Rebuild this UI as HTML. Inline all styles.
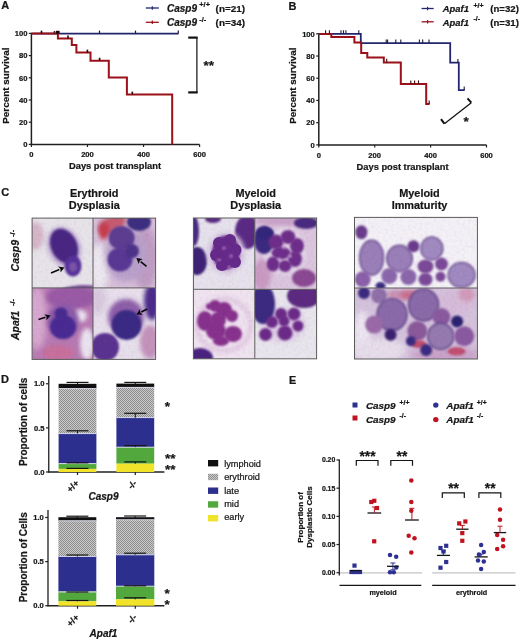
<!DOCTYPE html>
<html><head><meta charset="utf-8"><style>
html,body{margin:0;padding:0;background:#fff;}
body{width:520px;height:640px;overflow:hidden;}
svg{display:block;font-family:"Liberation Sans", sans-serif;filter:blur(0.35px);}
text{stroke:#161616;stroke-width:0.22px;}
</style></head><body>
<svg width="520" height="640" viewBox="0 0 520 640">
<defs>
<pattern id="chk" width="2" height="2" patternUnits="userSpaceOnUse"><rect width="2" height="2" fill="#c9c9c9"/><rect width="1" height="1" fill="#8e8e8e"/><rect x="1" y="1" width="1" height="1" fill="#8e8e8e"/></pattern>
<filter id="b1" x="-20%" y="-20%" width="140%" height="140%"><feGaussianBlur stdDeviation="1"/></filter>
<filter id="b2" x="-20%" y="-20%" width="140%" height="140%"><feGaussianBlur stdDeviation="2"/></filter>
<filter id="b3" x="-30%" y="-30%" width="160%" height="160%"><feGaussianBlur stdDeviation="3"/></filter>
<filter id="grain" x="0" y="0" width="100%" height="100%"><feTurbulence type="fractalNoise" baseFrequency="0.35" numOctaves="2" seed="3" result="n"/><feColorMatrix in="n" type="matrix" values="0 0 0 0 0.55  0 0 0 0 0.35  0 0 0 0 0.6  2.2 0 0 0 -0.9"/></filter>
<filter id="b05" x="-20%" y="-20%" width="140%" height="140%"><feGaussianBlur stdDeviation="0.6"/></filter>
</defs>
<rect width="520" height="640" fill="#fff"/>
<text x="1.2" y="9.2" font-size="11" font-weight="bold" font-style="normal" text-anchor="start" fill="#161616" >A</text>
<line x1="31.4" y1="32.9" x2="31.4" y2="145.1" stroke="#202020" stroke-width="1.5" />
<line x1="30.7" y1="144.4" x2="199.6" y2="144.4" stroke="#202020" stroke-width="1.5" />
<line x1="28.799999999999997" y1="144.4" x2="31.4" y2="144.4" stroke="#202020" stroke-width="1.2" />
<text x="27.4" y="147.1" font-size="7.6" font-weight="bold" font-style="normal" text-anchor="end" fill="#161616" >0</text>
<line x1="28.799999999999997" y1="122.2" x2="31.4" y2="122.2" stroke="#202020" stroke-width="1.2" />
<text x="27.4" y="124.9" font-size="7.6" font-weight="bold" font-style="normal" text-anchor="end" fill="#161616" >20</text>
<line x1="28.799999999999997" y1="100.0" x2="31.4" y2="100.0" stroke="#202020" stroke-width="1.2" />
<text x="27.4" y="102.7" font-size="7.6" font-weight="bold" font-style="normal" text-anchor="end" fill="#161616" >40</text>
<line x1="28.799999999999997" y1="77.80000000000001" x2="31.4" y2="77.80000000000001" stroke="#202020" stroke-width="1.2" />
<text x="27.4" y="80.50000000000001" font-size="7.6" font-weight="bold" font-style="normal" text-anchor="end" fill="#161616" >60</text>
<line x1="28.799999999999997" y1="55.60000000000001" x2="31.4" y2="55.60000000000001" stroke="#202020" stroke-width="1.2" />
<text x="27.4" y="58.30000000000001" font-size="7.6" font-weight="bold" font-style="normal" text-anchor="end" fill="#161616" >80</text>
<line x1="28.799999999999997" y1="33.400000000000006" x2="31.4" y2="33.400000000000006" stroke="#202020" stroke-width="1.2" />
<text x="27.4" y="36.10000000000001" font-size="7.6" font-weight="bold" font-style="normal" text-anchor="end" fill="#161616" >100</text>
<line x1="31.4" y1="144.4" x2="31.4" y2="147.0" stroke="#202020" stroke-width="1.2" />
<text x="31.4" y="157.0" font-size="7.6" font-weight="bold" font-style="normal" text-anchor="middle" fill="#161616" >0</text>
<line x1="87.46666666666667" y1="144.4" x2="87.46666666666667" y2="147.0" stroke="#202020" stroke-width="1.2" />
<text x="87.46666666666667" y="157.0" font-size="7.6" font-weight="bold" font-style="normal" text-anchor="middle" fill="#161616" >200</text>
<line x1="143.53333333333333" y1="144.4" x2="143.53333333333333" y2="147.0" stroke="#202020" stroke-width="1.2" />
<text x="143.53333333333333" y="157.0" font-size="7.6" font-weight="bold" font-style="normal" text-anchor="middle" fill="#161616" >400</text>
<line x1="199.6" y1="144.4" x2="199.6" y2="147.0" stroke="#202020" stroke-width="1.2" />
<text x="199.6" y="157.0" font-size="7.6" font-weight="bold" font-style="normal" text-anchor="middle" fill="#161616" >600</text>
<text x="115" y="169.20000000000002" font-size="9.3" font-weight="bold" font-style="normal" text-anchor="middle" fill="#161616" >Days post transplant</text>
<text x="0" y="0" font-size="9.9" font-weight="bold" text-anchor="middle" fill="#161616" transform="translate(8.7,85.6) rotate(-90)">Percent survival</text>
<polyline points="31.4,33.6 178.5,33.6" fill="none" stroke="#25256f" stroke-width="1.6" stroke-linejoin="miter"/>
<line x1="99.5" y1="30.6" x2="99.5" y2="33.6" stroke="#1a1a40" stroke-width="1.2" />
<line x1="135.5" y1="30.6" x2="135.5" y2="33.6" stroke="#1a1a40" stroke-width="1.2" />
<line x1="178.3" y1="30.6" x2="178.3" y2="33.6" stroke="#1a1a40" stroke-width="1.2" />
<polyline points="31.4,33.6 57.9,33.6 57.9,38.5 71.8,38.5 71.8,45.1 76.4,45.1 76.4,52.6 90.5,52.6 90.5,60.7 108.8,60.7 108.8,77.5 126.9,77.5 126.9,94.6 172.2,94.6 172.2,144.4" fill="none" stroke="#9c1019" stroke-width="2.0" stroke-linejoin="miter"/>
<rect x="53.7" y="31.0" width="1.6" height="2.6" fill="#4a2020"/><rect x="56.0" y="30.8" width="3.6" height="2.8" fill="#1a0808"/>
<line x1="41.5" y1="30.6" x2="41.5" y2="33.6" stroke="#2a0808" stroke-width="1.6" />
<line x1="68" y1="35.5" x2="68" y2="38.5" stroke="#2a0808" stroke-width="1.6" />
<line x1="87.4" y1="49.6" x2="87.4" y2="52.6" stroke="#2a0808" stroke-width="1.6" />
<line x1="99.6" y1="57.7" x2="99.6" y2="60.7" stroke="#2a0808" stroke-width="1.6" />
<line x1="132.3" y1="91.6" x2="132.3" y2="94.6" stroke="#2a0808" stroke-width="1.6" />
<line x1="188.2" y1="37.6" x2="197.6" y2="37.6" stroke="#111" stroke-width="2.2" />
<line x1="196.9" y1="37.0" x2="196.9" y2="93.0" stroke="#111" stroke-width="1.2" />
<line x1="188.2" y1="92.4" x2="197.6" y2="92.4" stroke="#111" stroke-width="2.2" />
<text x="208.8" y="70.0" font-size="13.5" font-weight="bold" font-style="normal" text-anchor="middle" fill="#161616" >**</text>
<line x1="145.8" y1="8.0" x2="158.8" y2="8.0" stroke="#25256f" stroke-width="1.3" />
<line x1="152.3" y1="6.3" x2="152.3" y2="9.7" stroke="#25256f" stroke-width="1.2" />
<line x1="145.8" y1="22.3" x2="158.8" y2="22.3" stroke="#9c1019" stroke-width="1.3" />
<line x1="152.3" y1="20.6" x2="152.3" y2="24.0" stroke="#9c1019" stroke-width="1.2" />
<text x="167" y="12.0" font-size="10" font-weight="bold" font-style="italic" text-anchor="start" fill="#161616" >Casp9</text>
<text x="199.3" y="7.4" font-size="7.4" font-weight="bold" font-style="normal" text-anchor="start" fill="#161616" >+/+</text>
<text x="215.6" y="12.0" font-size="9.9" font-weight="bold" font-style="normal" text-anchor="start" fill="#161616" >(n=21)</text>
<text x="167" y="26.3" font-size="10" font-weight="bold" font-style="italic" text-anchor="start" fill="#161616" >Casp9</text>
<text x="199.3" y="21.700000000000003" font-size="7.4" font-weight="bold" font-style="normal" text-anchor="start" fill="#161616" >-/-</text>
<text x="215.6" y="26.3" font-size="9.9" font-weight="bold" font-style="normal" text-anchor="start" fill="#161616" >(n=34)</text>
<text x="288.6" y="9.6" font-size="11" font-weight="bold" font-style="normal" text-anchor="start" fill="#161616" >B</text>
<line x1="318.8" y1="33.3" x2="318.8" y2="145.6" stroke="#202020" stroke-width="1.5" />
<line x1="318.1" y1="144.9" x2="486.5" y2="144.9" stroke="#202020" stroke-width="1.5" />
<line x1="316.2" y1="144.9" x2="318.8" y2="144.9" stroke="#202020" stroke-width="1.2" />
<text x="314.8" y="147.6" font-size="7.6" font-weight="bold" font-style="normal" text-anchor="end" fill="#161616" >0</text>
<line x1="316.2" y1="122.68" x2="318.8" y2="122.68" stroke="#202020" stroke-width="1.2" />
<text x="314.8" y="125.38000000000001" font-size="7.6" font-weight="bold" font-style="normal" text-anchor="end" fill="#161616" >20</text>
<line x1="316.2" y1="100.46000000000001" x2="318.8" y2="100.46000000000001" stroke="#202020" stroke-width="1.2" />
<text x="314.8" y="103.16000000000001" font-size="7.6" font-weight="bold" font-style="normal" text-anchor="end" fill="#161616" >40</text>
<line x1="316.2" y1="78.24000000000001" x2="318.8" y2="78.24000000000001" stroke="#202020" stroke-width="1.2" />
<text x="314.8" y="80.94000000000001" font-size="7.6" font-weight="bold" font-style="normal" text-anchor="end" fill="#161616" >60</text>
<line x1="316.2" y1="56.019999999999996" x2="318.8" y2="56.019999999999996" stroke="#202020" stroke-width="1.2" />
<text x="314.8" y="58.72" font-size="7.6" font-weight="bold" font-style="normal" text-anchor="end" fill="#161616" >80</text>
<line x1="316.2" y1="33.80000000000001" x2="318.8" y2="33.80000000000001" stroke="#202020" stroke-width="1.2" />
<text x="314.8" y="36.500000000000014" font-size="7.6" font-weight="bold" font-style="normal" text-anchor="end" fill="#161616" >100</text>
<line x1="318.8" y1="144.9" x2="318.8" y2="147.5" stroke="#202020" stroke-width="1.2" />
<text x="318.8" y="157.5" font-size="7.6" font-weight="bold" font-style="normal" text-anchor="middle" fill="#161616" >0</text>
<line x1="374.7" y1="144.9" x2="374.7" y2="147.5" stroke="#202020" stroke-width="1.2" />
<text x="374.7" y="157.5" font-size="7.6" font-weight="bold" font-style="normal" text-anchor="middle" fill="#161616" >200</text>
<line x1="430.6" y1="144.9" x2="430.6" y2="147.5" stroke="#202020" stroke-width="1.2" />
<text x="430.6" y="157.5" font-size="7.6" font-weight="bold" font-style="normal" text-anchor="middle" fill="#161616" >400</text>
<line x1="486.5" y1="144.9" x2="486.5" y2="147.5" stroke="#202020" stroke-width="1.2" />
<text x="486.5" y="157.5" font-size="7.6" font-weight="bold" font-style="normal" text-anchor="middle" fill="#161616" >600</text>
<text x="402.6" y="169.70000000000002" font-size="9.3" font-weight="bold" font-style="normal" text-anchor="middle" fill="#161616" >Days post transplant</text>
<text x="0" y="0" font-size="9.9" font-weight="bold" text-anchor="middle" fill="#161616" transform="translate(295.8,85.6) rotate(-90)">Percent survival</text>
<polyline points="318.8,33.9 360.8,33.9 360.8,43.1 450.2,43.1 450.2,62.7 458.8,62.7 458.8,90.2 464.6,90.2" fill="none" stroke="#25256f" stroke-width="1.8" stroke-linejoin="miter"/>
<polyline points="318.8,33.9 331.3,33.9 331.3,37.0 354.4,37.0 354.4,42.4 361.2,42.4 361.2,52.9 367.3,52.9 367.3,57.6 383.8,57.6 383.8,62.4 400.8,62.4 400.8,84.0 426.2,84.0 426.2,104.0 429.6,104.0" fill="none" stroke="#9c1019" stroke-width="2.0" stroke-linejoin="miter"/>
<line x1="325.6" y1="30.299999999999997" x2="325.6" y2="33.9" stroke="#3a0a0a" stroke-width="1.1" />
<line x1="329.4" y1="30.299999999999997" x2="329.4" y2="33.9" stroke="#3a0a0a" stroke-width="1.1" />
<line x1="341" y1="30.299999999999997" x2="341" y2="33.9" stroke="#1a1a40" stroke-width="1.1" />
<line x1="343.5" y1="30.299999999999997" x2="343.5" y2="33.9" stroke="#1a1a40" stroke-width="1.1" />
<line x1="345.9" y1="30.299999999999997" x2="345.9" y2="33.9" stroke="#1a1a40" stroke-width="1.1" />
<line x1="358.8" y1="30.299999999999997" x2="358.8" y2="33.9" stroke="#1a1a40" stroke-width="1.1" />
<line x1="386.2" y1="39.5" x2="386.2" y2="43.1" stroke="#1a1a40" stroke-width="1.1" />
<line x1="387.6" y1="39.5" x2="387.6" y2="43.1" stroke="#1a1a40" stroke-width="1.1" />
<line x1="395.8" y1="39.5" x2="395.8" y2="43.1" stroke="#1a1a40" stroke-width="1.1" />
<line x1="400.8" y1="39.5" x2="400.8" y2="43.1" stroke="#1a1a40" stroke-width="1.1" />
<line x1="419.4" y1="39.5" x2="419.4" y2="43.1" stroke="#1a1a40" stroke-width="1.1" />
<line x1="422.7" y1="39.5" x2="422.7" y2="43.1" stroke="#1a1a40" stroke-width="1.1" />
<line x1="429" y1="39.5" x2="429" y2="43.1" stroke="#1a1a40" stroke-width="1.1" />
<line x1="457.9" y1="59.1" x2="457.9" y2="62.7" stroke="#1a1a40" stroke-width="1.1" />
<line x1="464.2" y1="86.60000000000001" x2="464.2" y2="90.2" stroke="#1a1a40" stroke-width="1.1" />
<line x1="386.7" y1="58.8" x2="386.7" y2="62.4" stroke="#3a0a0a" stroke-width="1.1" />
<line x1="410.8" y1="80.4" x2="410.8" y2="84.0" stroke="#3a0a0a" stroke-width="1.1" />
<line x1="414.6" y1="80.4" x2="414.6" y2="84.0" stroke="#3a0a0a" stroke-width="1.1" />
<line x1="418.5" y1="80.4" x2="418.5" y2="84.0" stroke="#3a0a0a" stroke-width="1.1" />
<line x1="429.2" y1="100.4" x2="429.2" y2="104.0" stroke="#3a0a0a" stroke-width="1.1" />
<line x1="444.4" y1="123.7" x2="471.3" y2="102.7" stroke="#111" stroke-width="1.3" />
<line x1="444.4" y1="123.7" x2="441.0" y2="119.1" stroke="#111" stroke-width="2.0" />
<line x1="471.3" y1="102.7" x2="467.5" y2="98.3" stroke="#111" stroke-width="2.0" />
<text x="466.2" y="125.6" font-size="13.5" font-weight="bold" font-style="normal" text-anchor="middle" fill="#161616" >*</text>
<line x1="421.6" y1="8.5" x2="433.7" y2="8.5" stroke="#25256f" stroke-width="1.3" />
<line x1="427.6" y1="6.8" x2="427.6" y2="10.2" stroke="#25256f" stroke-width="1.2" />
<line x1="421.6" y1="21.8" x2="433.7" y2="21.8" stroke="#9c1019" stroke-width="1.3" />
<line x1="427.6" y1="20.1" x2="427.6" y2="23.5" stroke="#9c1019" stroke-width="1.2" />
<text x="442.8" y="12.4" font-size="9.4" font-weight="bold" font-style="italic" text-anchor="start" fill="#161616" >Apaf1</text>
<text x="473.4" y="7.800000000000001" font-size="7.0" font-weight="bold" font-style="normal" text-anchor="start" fill="#161616" >+/+</text>
<text x="490.3" y="12.4" font-size="9.6" font-weight="bold" font-style="normal" text-anchor="start" fill="#161616" >(n=32)</text>
<text x="442.8" y="25.8" font-size="9.4" font-weight="bold" font-style="italic" text-anchor="start" fill="#161616" >Apaf1</text>
<text x="473.4" y="21.200000000000003" font-size="7.0" font-weight="bold" font-style="normal" text-anchor="start" fill="#161616" >-/-</text>
<text x="490.3" y="25.8" font-size="9.6" font-weight="bold" font-style="normal" text-anchor="start" fill="#161616" >(n=31)</text>
<text x="1.3" y="195.8" font-size="11" font-weight="bold" fill="#161616">C</text>
<text x="94.3" y="196.6" font-size="10.9" font-weight="bold" text-anchor="middle" fill="#161616">Erythroid</text>
<text x="94.3" y="209.4" font-size="10.9" font-weight="bold" text-anchor="middle" fill="#161616">Dysplasia</text>
<text x="255.7" y="196.6" font-size="10.9" font-weight="bold" text-anchor="middle" fill="#161616">Myeloid</text>
<text x="255.7" y="209.4" font-size="10.9" font-weight="bold" text-anchor="middle" fill="#161616">Dysplasia</text>
<text x="419.5" y="196.6" font-size="10.9" font-weight="bold" text-anchor="middle" fill="#161616">Myeloid</text>
<text x="419.5" y="209.4" font-size="10.9" font-weight="bold" text-anchor="middle" fill="#161616">Immaturity</text>
<text transform="translate(18.9,271.4) rotate(-90)" font-size="10.5" font-weight="bold" fill="#161616"><tspan font-style="italic">Casp9</tspan><tspan font-size="7.4" dx="3.0" dy="-4.4">-/-</tspan></text>
<text transform="translate(18.9,340.0) rotate(-90)" font-size="10.5" font-weight="bold" fill="#161616"><tspan font-style="italic">Apaf1</tspan><tspan font-size="7.4" dx="4.8" dy="-4.4">-/-</tspan></text>
<clipPath id="e1"><rect x="32.1" y="218.1" width="60.9" height="69.79999999999998"/></clipPath><g clip-path="url(#e1)"><rect x="32.1" y="218.1" width="60.9" height="69.79999999999998" fill="#e7e4e9"/><ellipse cx="35" cy="236" rx="9" ry="14" fill="#d6b6c8" filter="url(#b2)"/><ellipse cx="84" cy="297" rx="30" ry="12" fill="#7a4c9c" filter="url(#b1)"/><ellipse cx="64" cy="247" rx="16" ry="21" fill="#b9a3cf" filter="url(#b2)" transform="rotate(-25 64 247)"/><ellipse cx="64" cy="246" rx="13" ry="18" fill="#4a2882" filter="url(#b1)" transform="rotate(-25 64 246)"/><ellipse cx="73" cy="266" rx="8.5" ry="10.5" fill="#57329a" filter="url(#b1)"/><ellipse cx="73" cy="267" rx="4" ry="5" fill="#7a52a8" filter="url(#b1)"/><line x1="51" y1="273" x2="59.325320643918516" y2="269.5207615219445" stroke="#0a0a0a" stroke-width="1.6"/><polygon points="64.4,267.4 60.55921825668623,272.4733022382101 60.432523412518115,269.0580499171566 58.0914230311508,266.5682208056789" fill="#0a0a0a"/></g>
<clipPath id="e2"><rect x="93.0" y="218.1" width="62.599999999999994" height="69.79999999999998"/></clipPath><g clip-path="url(#e2)"><rect x="93.0" y="218.1" width="62.599999999999994" height="69.79999999999998" fill="#d7c0d9"/><ellipse cx="99" cy="268" rx="10" ry="24" fill="#ece8ef" filter="url(#b3)"/><ellipse cx="145" cy="258" rx="13" ry="32" fill="#bf9cc3" filter="url(#b3)"/><ellipse cx="112" cy="225" rx="15" ry="9" fill="#c65a70" filter="url(#b2)" transform="rotate(-25 112 225)"/><ellipse cx="104" cy="231" rx="5" ry="9" fill="#c43a4c" filter="url(#b2)"/><ellipse cx="126" cy="255" rx="21" ry="27" fill="#b8a0ca" filter="url(#b3)"/><ellipse cx="139" cy="222" rx="12" ry="9" fill="#3d2d80" filter="url(#b1)"/><ellipse cx="121.6" cy="238" rx="13" ry="12" fill="#5b3c90" filter="url(#b1)"/><ellipse cx="120" cy="259.5" rx="12.5" ry="12" fill="#583994" filter="url(#b1)"/><ellipse cx="132" cy="251" rx="7" ry="7" fill="#4d3189" filter="url(#b1)"/><line x1="146.5" y1="266.3" x2="140.6699198654438" y2="261.56666761352864" stroke="#0a0a0a" stroke-width="1.6"/><polygon points="136.4,258.1 142.686890113315,259.0823506009068 139.7383009857106,260.8103037705769 138.6529496175726,264.05098462615047" fill="#0a0a0a"/></g>
<clipPath id="e3"><rect x="32.1" y="287.9" width="60.9" height="71.5"/></clipPath><g clip-path="url(#e3)"><rect x="32.1" y="287.9" width="60.9" height="71.5" fill="#b77ab2"/><ellipse cx="37" cy="318" rx="10" ry="32" fill="#d6a8cf" filter="url(#b3)"/><ellipse cx="72" cy="297" rx="26" ry="12" fill="#9a5aa6" filter="url(#b2)"/><ellipse cx="80" cy="316" rx="7" ry="6" fill="#f0eaf3" filter="url(#b2)"/><ellipse cx="87" cy="344" rx="7" ry="16" fill="#ebe4f0" filter="url(#b2)"/><ellipse cx="58" cy="353" rx="16" ry="8" fill="#c8709c" filter="url(#b2)"/><ellipse cx="63" cy="321" rx="16" ry="17" fill="#8a5aa8" filter="url(#b2)"/><ellipse cx="61" cy="313.5" rx="6.5" ry="6" fill="#4a2a90" filter="url(#b1)"/><ellipse cx="63" cy="327" rx="13" ry="12" fill="#482b92" filter="url(#b1)"/><line x1="38.5" y1="319.6" x2="45.40411006918758" y2="317.20353204210016" stroke="#0a0a0a" stroke-width="1.6"/><polygon points="50.6,315.4 46.45343780277315,320.22659527457284 46.537758781364836,316.8100341420056 44.35478233560201,314.1804688096275" fill="#0a0a0a"/></g>
<clipPath id="e4"><rect x="93.0" y="287.9" width="62.599999999999994" height="71.5"/></clipPath><g clip-path="url(#e4)"><rect x="93.0" y="287.9" width="62.599999999999994" height="71.5" fill="#e7dfeb"/><ellipse cx="98" cy="300" rx="8" ry="14" fill="#d8c8de" filter="url(#b3)"/><ellipse cx="150" cy="342" rx="10" ry="17" fill="#c393bb" filter="url(#b2)"/><ellipse cx="152" cy="301" rx="8" ry="19" fill="#4b2b8b" filter="url(#b2)"/><ellipse cx="126" cy="317" rx="18" ry="18" fill="#8d5ea8" filter="url(#b2)"/><ellipse cx="126.5" cy="325" rx="15" ry="15" fill="#3b2a84" filter="url(#b1)"/><ellipse cx="105" cy="347" rx="14" ry="14" fill="#5a3190" filter="url(#b1)"/><line x1="147.2" y1="309" x2="141.31934955049954" y2="311.9403252247502" stroke="#0a0a0a" stroke-width="1.6"/><polygon points="136.4,314.4 139.88826604489967,309.07815821355047 140.24603692129963,312.47698153935016 142.7504330560994,314.80249223594996" fill="#0a0a0a"/></g>
<rect x="32.1" y="218.1" width="123.5" height="141.29999999999998" fill="#7a5a8a" filter="url(#grain)" opacity="0.13" style="mix-blend-mode:multiply"/>
<rect x="32.1" y="218.1" width="123.5" height="141.29999999999998" fill="none" stroke="#5a5a5a" stroke-width="1"/>
<line x1="93.0" y1="218.1" x2="93.0" y2="359.4" stroke="#5a5a5a" stroke-width="1"/>
<line x1="32.1" y1="287.9" x2="155.6" y2="287.9" stroke="#5a5a5a" stroke-width="1"/>
<clipPath id="m1"><rect x="193.4" y="218.0" width="61.400000000000006" height="71.30000000000001"/></clipPath><g clip-path="url(#m1)"><rect x="193.4" y="218.0" width="61.400000000000006" height="71.30000000000001" fill="#e6e2ec"/><ellipse cx="194" cy="231" rx="5" ry="15" fill="#4a2a80" filter="url(#b1)"/><ellipse cx="213" cy="219" rx="8" ry="4" fill="#5a2a82" filter="url(#b1)"/><ellipse cx="247" cy="232" rx="12" ry="17" fill="#5a2a84" filter="url(#b1)"/><ellipse cx="197" cy="261" rx="10" ry="14" fill="#3c2274" filter="url(#b1)"/><ellipse cx="226" cy="253" rx="19" ry="21" fill="#d6c6e0" filter="url(#b2)"/><ellipse cx="226" cy="252.5" rx="14" ry="17" fill="#6a2c8c" filter="url(#b1)"/><ellipse cx="219" cy="243" rx="6" ry="6" fill="#652a8a"/><ellipse cx="230" cy="240" rx="6" ry="6" fill="#652a8a"/><ellipse cx="236" cy="250" rx="5.5" ry="6" fill="#652a8a"/><ellipse cx="216" cy="255" rx="6" ry="6" fill="#652a8a"/><ellipse cx="226" cy="254" rx="5" ry="5" fill="#652a8a"/><ellipse cx="235" cy="262" rx="6" ry="6" fill="#652a8a"/><ellipse cx="222" cy="266" rx="6" ry="5" fill="#652a8a"/><ellipse cx="224" cy="248" rx="1.6" ry="1.6" fill="#b080c0" filter="url(#b1)"/><ellipse cx="231" cy="256" rx="1.6" ry="1.6" fill="#b080c0" filter="url(#b1)"/><ellipse cx="219" cy="260" rx="1.6" ry="1.4" fill="#b080c0" filter="url(#b1)"/><ellipse cx="229" cy="267" rx="1.4" ry="1.4" fill="#b080c0" filter="url(#b1)"/></g>
<clipPath id="m2"><rect x="254.8" y="218.0" width="61.80000000000001" height="71.30000000000001"/></clipPath><g clip-path="url(#m2)"><rect x="254.8" y="218.0" width="61.80000000000001" height="71.30000000000001" fill="#dbc6de"/><ellipse cx="285" cy="221" rx="30" ry="5" fill="#c8a2c8" filter="url(#b2)"/><ellipse cx="306" cy="223" rx="12" ry="6" fill="#4a2a80" filter="url(#b1)"/><ellipse cx="262" cy="275" rx="9" ry="16" fill="#c99ac2" filter="url(#b2)"/><ellipse cx="285" cy="251" rx="21" ry="23" fill="#e6d9ea" filter="url(#b2)"/><ellipse cx="264" cy="240" rx="10" ry="14" fill="#3a2a80" filter="url(#b1)"/><ellipse cx="265" cy="233" rx="9" ry="6" fill="#33267c" filter="url(#b1)"/><ellipse cx="276" cy="242" rx="7.5" ry="7.5" fill="#6e2e8a" filter="url(#b1)"/><ellipse cx="288" cy="237" rx="7.5" ry="7" fill="#6e2e8a" filter="url(#b1)"/><ellipse cx="297" cy="246" rx="7" ry="8" fill="#6e2e8a" filter="url(#b1)"/><ellipse cx="281" cy="253" rx="9.5" ry="6.5" fill="#6e2e8a" filter="url(#b1)"/><ellipse cx="295" cy="259" rx="7" ry="8" fill="#6e2e8a" filter="url(#b1)"/><ellipse cx="273" cy="264" rx="6.5" ry="7.5" fill="#6e2e8a" filter="url(#b1)"/><ellipse cx="285" cy="266" rx="6.5" ry="6" fill="#6e2e8a" filter="url(#b1)"/><ellipse cx="284" cy="247" rx="2" ry="1.5" fill="#c8a8d8" filter="url(#b1)"/><ellipse cx="290" cy="256" rx="1.8" ry="1.5" fill="#c8a8d8" filter="url(#b1)"/><ellipse cx="279" cy="259" rx="1.5" ry="1.5" fill="#c8a8d8" filter="url(#b1)"/><ellipse cx="304" cy="278" rx="12" ry="9" fill="#8a4a92" filter="url(#b1)"/></g>
<clipPath id="m3"><rect x="193.4" y="289.3" width="61.400000000000006" height="69.5"/></clipPath><g clip-path="url(#m3)"><rect x="193.4" y="289.3" width="61.400000000000006" height="69.5" fill="#efe4ef"/><ellipse cx="224" cy="325" rx="29" ry="28" fill="#e0c6e0" filter="url(#b2)"/><ellipse cx="224" cy="325" rx="25" ry="24" fill="#efe2f0" filter="url(#b2)"/><ellipse cx="205" cy="321" rx="8" ry="10" fill="#87308d" filter="url(#b1)"/><ellipse cx="215" cy="306" rx="6" ry="6" fill="#87308d" filter="url(#b1)"/><ellipse cx="224" cy="310" rx="8" ry="8" fill="#87308d" filter="url(#b1)"/><ellipse cx="232" cy="316" rx="6" ry="6" fill="#87308d" filter="url(#b1)"/><ellipse cx="216" cy="331" rx="10" ry="9" fill="#87308d" filter="url(#b1)"/><ellipse cx="233" cy="334" rx="9" ry="8" fill="#87308d" filter="url(#b1)"/><ellipse cx="221" cy="341" rx="8" ry="5" fill="#87308d" filter="url(#b1)"/><ellipse cx="209" cy="306.5" rx="3" ry="3" fill="#87308d" filter="url(#b1)"/><ellipse cx="218" cy="320" rx="8" ry="8" fill="#87308d" filter="url(#b1)"/><ellipse cx="200" cy="358" rx="13" ry="10" fill="#4a2080" filter="url(#b1)"/></g>
<clipPath id="m4"><rect x="254.8" y="289.3" width="61.80000000000001" height="69.5"/></clipPath><g clip-path="url(#m4)"><rect x="254.8" y="289.3" width="61.80000000000001" height="69.5" fill="#e8e6ec"/><ellipse cx="283" cy="325" rx="22" ry="17" fill="#decde6" filter="url(#b3)"/><ellipse cx="263" cy="304" rx="12" ry="20" fill="#3a2a80" filter="url(#b1)"/><ellipse cx="304" cy="296" rx="17" ry="12" fill="#5c2a80" filter="url(#b1)"/><ellipse cx="265.5" cy="334.5" rx="6.5" ry="6.5" fill="#6c2c88" filter="url(#b1)"/><ellipse cx="272" cy="322" rx="6" ry="6" fill="#6c2c88" filter="url(#b1)"/><ellipse cx="281" cy="314" rx="6" ry="6" fill="#6c2c88" filter="url(#b1)"/><ellipse cx="294" cy="314" rx="6.5" ry="6.5" fill="#6c2c88" filter="url(#b1)"/><ellipse cx="298" cy="326" rx="5.5" ry="5.5" fill="#6c2c88" filter="url(#b1)"/><ellipse cx="285" cy="333" rx="7.5" ry="7.5" fill="#6c2c88" filter="url(#b1)"/><ellipse cx="284" cy="321" rx="5.5" ry="5.5" fill="#6c2c88" filter="url(#b1)"/></g>
<rect x="193.4" y="218.0" width="123.20000000000002" height="140.8" fill="#7a5a8a" filter="url(#grain)" opacity="0.13" style="mix-blend-mode:multiply"/>
<rect x="193.4" y="218.0" width="123.20000000000002" height="140.8" fill="none" stroke="#5a5a5a" stroke-width="1"/>
<line x1="254.8" y1="218.0" x2="254.8" y2="358.8" stroke="#5a5a5a" stroke-width="1"/>
<line x1="193.4" y1="289.3" x2="316.6" y2="289.3" stroke="#5a5a5a" stroke-width="1"/>
<clipPath id="i1"><rect x="354.5" y="217.4" width="122.89999999999998" height="70.6"/></clipPath><g clip-path="url(#i1)"><rect x="354.5" y="217.4" width="122.89999999999998" height="70.6" fill="#f3f1f6"/><ellipse cx="361.4" cy="232.3" rx="6" ry="7" fill="#6a3a8c" filter="url(#b1)"/><ellipse cx="371.6" cy="257.7" rx="12" ry="17.5" fill="#9a7fb8" stroke="#6a4890" stroke-width="1.4" filter="url(#b1)"/><ellipse cx="399.5" cy="258.5" rx="12.8" ry="13.2" fill="#9a7fb8" stroke="#6a4890" stroke-width="1.4" filter="url(#b1)"/><ellipse cx="413.5" cy="246.3" rx="6" ry="6" fill="#6a3a8c" filter="url(#b1)"/><ellipse cx="431.8" cy="248.5" rx="11" ry="11.5" fill="#a08ac0" stroke="#6a4890" stroke-width="1.4" filter="url(#b1)"/><ellipse cx="425.5" cy="266.5" rx="8" ry="7" fill="#7a4a98" filter="url(#b1)"/><ellipse cx="441.5" cy="264" rx="6.5" ry="6.5" fill="#7a4a98" filter="url(#b1)"/><ellipse cx="425.5" cy="279.3" rx="7" ry="6.5" fill="#7a4a98" filter="url(#b1)"/><ellipse cx="440.5" cy="276.7" rx="5" ry="5" fill="#7a4a98" filter="url(#b1)"/><ellipse cx="461.6" cy="275" rx="13.5" ry="12.5" fill="#a08ac0" stroke="#6a4890" stroke-width="1.4" filter="url(#b1)"/><ellipse cx="362.7" cy="279.3" rx="8" ry="8" fill="#8a60a8" filter="url(#b1)"/><ellipse cx="389.3" cy="276" rx="8" ry="8" fill="#8a66aa" filter="url(#b1)"/><ellipse cx="408.4" cy="277" rx="8" ry="8" fill="#8a66aa" filter="url(#b1)"/><ellipse cx="380.5" cy="286" rx="5" ry="4" fill="#3a2a80" filter="url(#b1)"/></g>
<clipPath id="i2"><rect x="354.5" y="288.0" width="122.89999999999998" height="71.0"/></clipPath><g clip-path="url(#i2)"><rect x="354.5" y="288.0" width="122.89999999999998" height="71.0" fill="#d4c2dc"/><ellipse cx="362" cy="335" rx="9" ry="24" fill="#ece6f0" filter="url(#b3)"/><ellipse cx="380" cy="350" rx="26" ry="12" fill="#e6deea" filter="url(#b3)"/><ellipse cx="445" cy="355" rx="35" ry="8" fill="#c8a2c8" filter="url(#b3)"/><ellipse cx="456" cy="302" rx="18" ry="12" fill="#d6bcd8" filter="url(#b3)"/><ellipse cx="398" cy="295" rx="12" ry="5" fill="#c890b0" filter="url(#b2)"/><ellipse cx="364" cy="293" rx="6" ry="6" fill="#3a2a80" filter="url(#b1)"/><ellipse cx="379" cy="295.5" rx="8" ry="8" fill="#9070a8" filter="url(#b1)"/><ellipse cx="410" cy="295" rx="10" ry="5" fill="#c87090" filter="url(#b2)"/><ellipse cx="466.8" cy="294.2" rx="8" ry="7" fill="#d09ab8" filter="url(#b2)"/><ellipse cx="392" cy="314.6" rx="15" ry="16" fill="#8a6aa8" stroke="#5e3e86" stroke-width="1.4" filter="url(#b1)"/><ellipse cx="423.6" cy="305" rx="15" ry="16" fill="#8a6aa8" stroke="#5e3e86" stroke-width="1.4" filter="url(#b1)"/><ellipse cx="441.4" cy="317" rx="9" ry="9" fill="#8a5aa0" filter="url(#b1)"/><ellipse cx="457.1" cy="321.6" rx="6" ry="6" fill="#2a2070" filter="url(#b1)"/><ellipse cx="374.1" cy="324.6" rx="9" ry="9" fill="#9a6aa8" filter="url(#b1)"/><ellipse cx="390.6" cy="334.8" rx="6" ry="6" fill="#3a2070" filter="url(#b1)"/><ellipse cx="417.3" cy="331" rx="10" ry="10" fill="#8a5a9a" filter="url(#b1)"/><ellipse cx="440.7" cy="336.3" rx="13" ry="13" fill="#957ab0" stroke="#5e3e86" stroke-width="1.4" filter="url(#b1)"/><ellipse cx="464.2" cy="336.3" rx="10" ry="10" fill="#8a5aa0" filter="url(#b1)"/><ellipse cx="418.5" cy="344" rx="8" ry="4" fill="#c05070" filter="url(#b1)"/><ellipse cx="456.6" cy="351.3" rx="9" ry="4" fill="#c05070" filter="url(#b1)"/><ellipse cx="410.9" cy="341.1" rx="5" ry="5" fill="#3a2a80" filter="url(#b1)"/><ellipse cx="426.2" cy="350" rx="6" ry="6" fill="#3a2a80" filter="url(#b1)"/></g>
<rect x="354.5" y="217.4" width="122.89999999999998" height="141.6" fill="#7a5a8a" filter="url(#grain)" opacity="0.13" style="mix-blend-mode:multiply"/>
<rect x="354.5" y="217.4" width="122.89999999999998" height="141.6" fill="none" stroke="#5a5a5a" stroke-width="1"/>
<line x1="354.5" y1="288.0" x2="477.4" y2="288.0" stroke="#5a5a5a" stroke-width="1"/>
<text x="1.0" y="383.1" font-size="11" font-weight="bold" font-style="normal" text-anchor="start" fill="#161616" >D</text>
<line x1="48.75" y1="376.0" x2="48.75" y2="472.6" stroke="#202020" stroke-width="1.3"/><line x1="48.15" y1="472.0" x2="164.4" y2="472.0" stroke="#202020" stroke-width="1.3"/><line x1="45.95" y1="472.0" x2="48.75" y2="472.0" stroke="#202020" stroke-width="1.2"/><text x="44.55" y="474.7" font-size="7.6" font-weight="bold" font-style="normal" text-anchor="end" fill="#161616" >0.0</text><line x1="45.95" y1="427.875" x2="48.75" y2="427.875" stroke="#202020" stroke-width="1.2"/><text x="44.55" y="430.575" font-size="7.6" font-weight="bold" font-style="normal" text-anchor="end" fill="#161616" >0.5</text><line x1="45.95" y1="383.75" x2="48.75" y2="383.75" stroke="#202020" stroke-width="1.2"/><text x="44.55" y="386.45" font-size="7.6" font-weight="bold" font-style="normal" text-anchor="end" fill="#161616" >1.0</text><line x1="77.5" y1="472.0" x2="77.5" y2="475.0" stroke="#202020" stroke-width="1.2"/><line x1="135.3" y1="472.0" x2="135.3" y2="475.0" stroke="#202020" stroke-width="1.2"/><text transform="translate(27.0,421.9) rotate(-90)" font-size="10" font-weight="bold" text-anchor="middle" fill="#161616">Proportion of cells</text><rect x="58.6" y="383.8" width="37.800000000000004" height="4.800000000000011" fill="#111111"/><rect x="58.6" y="388.6" width="37.800000000000004" height="45.0" fill="url(#chk)"/><rect x="58.6" y="433.6" width="37.800000000000004" height="30.0" fill="#2c2f8e"/><rect x="58.6" y="463.6" width="37.800000000000004" height="5.2999999999999545" fill="#52a83c"/><rect x="58.6" y="468.9" width="37.800000000000004" height="3.1000000000000227" fill="#f1e22a"/><rect x="58.6" y="388.1" width="37.800000000000004" height="1" fill="#dde0f0" opacity="0.9"/><rect x="58.6" y="433.1" width="37.800000000000004" height="1" fill="#dde0f0" opacity="0.9"/><rect x="58.6" y="463.1" width="37.800000000000004" height="1" fill="#dde0f0" opacity="0.9"/><line x1="66.5" y1="382.4" x2="88.5" y2="382.4" stroke="#151515" stroke-width="1.2"/><line x1="77.5" y1="382.4" x2="77.5" y2="384.9" stroke="#151515" stroke-width="1.0"/><line x1="66.5" y1="430.8" x2="88.5" y2="430.8" stroke="#151515" stroke-width="1.2"/><line x1="77.5" y1="430.8" x2="77.5" y2="433.40000000000003" stroke="#151515" stroke-width="1.0"/><line x1="66.5" y1="468.4" x2="88.5" y2="468.4" stroke="#151515" stroke-width="1.2"/><line x1="77.5" y1="468.4" x2="77.5" y2="468.9" stroke="#151515" stroke-width="1.0"/><line x1="66.5" y1="462.8" x2="88.5" y2="462.8" stroke="#151515" stroke-width="1.2"/><line x1="77.5" y1="462.8" x2="77.5" y2="463.3" stroke="#151515" stroke-width="1.0"/><rect x="116.4" y="383.6" width="37.79999999999998" height="3.7999999999999545" fill="#111111"/><rect x="116.4" y="387.4" width="37.79999999999998" height="30.200000000000045" fill="url(#chk)"/><rect x="116.4" y="417.6" width="37.79999999999998" height="29.599999999999966" fill="#2c2f8e"/><rect x="116.4" y="447.2" width="37.79999999999998" height="16.5" fill="#52a83c"/><rect x="116.4" y="463.7" width="37.79999999999998" height="8.300000000000011" fill="#f1e22a"/><rect x="116.4" y="386.9" width="37.79999999999998" height="1" fill="#dde0f0" opacity="0.9"/><rect x="116.4" y="417.1" width="37.79999999999998" height="1" fill="#dde0f0" opacity="0.9"/><rect x="116.4" y="446.7" width="37.79999999999998" height="1" fill="#dde0f0" opacity="0.9"/><line x1="124.30000000000001" y1="382.4" x2="146.3" y2="382.4" stroke="#151515" stroke-width="1.2"/><line x1="135.3" y1="382.4" x2="135.3" y2="384.4" stroke="#151515" stroke-width="1.0"/><line x1="124.30000000000001" y1="413.3" x2="146.3" y2="413.3" stroke="#151515" stroke-width="1.2"/><line x1="135.3" y1="413.3" x2="135.3" y2="417.8" stroke="#151515" stroke-width="1.0"/><line x1="124.30000000000001" y1="445.6" x2="146.3" y2="445.6" stroke="#151515" stroke-width="1.2"/><line x1="135.3" y1="445.6" x2="135.3" y2="447.1" stroke="#151515" stroke-width="1.0"/><line x1="124.30000000000001" y1="461.9" x2="146.3" y2="461.9" stroke="#151515" stroke-width="1.2"/><line x1="135.3" y1="461.9" x2="135.3" y2="463.7" stroke="#151515" stroke-width="1.0"/><text transform="translate(79.6,483.8) rotate(-45)" font-size="9" font-weight="bold" text-anchor="end" fill="#161616">+/+</text><text transform="translate(137.4,483.8) rotate(-45)" font-size="9" font-weight="bold" text-anchor="end" fill="#161616">-/-</text><text x="103.5" y="500.0" font-size="10" font-weight="bold" font-style="italic" text-anchor="middle" fill="#161616" >Casp9</text><text x="167.3" y="410.6" font-size="13.5" font-weight="bold" font-style="normal" text-anchor="middle" fill="#161616" >*</text><text x="170.2" y="462.6" font-size="13.5" font-weight="bold" font-style="normal" text-anchor="middle" fill="#161616" >**</text><text x="170.2" y="474.1" font-size="13.5" font-weight="bold" font-style="normal" text-anchor="middle" fill="#161616" >**</text>
<line x1="48.0" y1="510.0" x2="48.0" y2="606.35" stroke="#202020" stroke-width="1.3"/><line x1="47.4" y1="605.75" x2="164.4" y2="605.75" stroke="#202020" stroke-width="1.3"/><line x1="45.2" y1="605.75" x2="48.0" y2="605.75" stroke="#202020" stroke-width="1.2"/><text x="43.8" y="608.45" font-size="7.6" font-weight="bold" font-style="normal" text-anchor="end" fill="#161616" >0.0</text><line x1="45.2" y1="561.625" x2="48.0" y2="561.625" stroke="#202020" stroke-width="1.2"/><text x="43.8" y="564.325" font-size="7.6" font-weight="bold" font-style="normal" text-anchor="end" fill="#161616" >0.5</text><line x1="45.2" y1="517.5" x2="48.0" y2="517.5" stroke="#202020" stroke-width="1.2"/><text x="43.8" y="520.2" font-size="7.6" font-weight="bold" font-style="normal" text-anchor="end" fill="#161616" >1.0</text><line x1="77.5" y1="605.75" x2="77.5" y2="608.75" stroke="#202020" stroke-width="1.2"/><line x1="135.3" y1="605.75" x2="135.3" y2="608.75" stroke="#202020" stroke-width="1.2"/><text transform="translate(27.0,557.3) rotate(-90)" font-size="10" font-weight="bold" text-anchor="middle" fill="#161616">Proportion of Cells</text><rect x="58.4" y="517.2" width="37.9" height="3.599999999999909" fill="#111111"/><rect x="58.4" y="520.8" width="37.9" height="35.200000000000045" fill="url(#chk)"/><rect x="58.4" y="556.0" width="37.9" height="35.5" fill="#2c2f8e"/><rect x="58.4" y="591.5" width="37.9" height="9.799999999999955" fill="#52a83c"/><rect x="58.4" y="601.3" width="37.9" height="4.4500000000000455" fill="#f1e22a"/><rect x="58.4" y="520.3" width="37.9" height="1" fill="#dde0f0" opacity="0.9"/><rect x="58.4" y="556.0" width="37.9" height="1" fill="#dde0f0" opacity="0.9"/><rect x="58.4" y="591.5" width="37.9" height="1" fill="#dde0f0" opacity="0.9"/><line x1="66.35" y1="516.2" x2="88.35" y2="516.2" stroke="#151515" stroke-width="1.2"/><line x1="77.35" y1="516.2" x2="77.35" y2="518.2" stroke="#151515" stroke-width="1.0"/><line x1="66.35" y1="555.0" x2="88.35" y2="555.0" stroke="#151515" stroke-width="1.2"/><line x1="77.35" y1="555.0" x2="77.35" y2="556.5" stroke="#151515" stroke-width="1.0"/><line x1="66.35" y1="592.0" x2="88.35" y2="592.0" stroke="#151515" stroke-width="1.2"/><line x1="77.35" y1="592.0" x2="77.35" y2="592.5" stroke="#151515" stroke-width="1.0"/><line x1="66.35" y1="600.5" x2="88.35" y2="600.5" stroke="#151515" stroke-width="1.2"/><line x1="77.35" y1="600.5" x2="77.35" y2="601.3" stroke="#151515" stroke-width="1.0"/><rect x="116.0" y="517.2" width="38.30000000000001" height="2.599999999999909" fill="#111111"/><rect x="116.0" y="519.8" width="38.30000000000001" height="34.80000000000007" fill="url(#chk)"/><rect x="116.0" y="554.6" width="38.30000000000001" height="31.399999999999977" fill="#2c2f8e"/><rect x="116.0" y="586.0" width="38.30000000000001" height="13.299999999999955" fill="#52a83c"/><rect x="116.0" y="599.3" width="38.30000000000001" height="6.4500000000000455" fill="#f1e22a"/><rect x="116.0" y="519.3" width="38.30000000000001" height="1" fill="#dde0f0" opacity="0.9"/><rect x="116.0" y="554.3" width="38.30000000000001" height="1" fill="#dde0f0" opacity="0.9"/><rect x="116.0" y="585.7" width="38.30000000000001" height="1" fill="#dde0f0" opacity="0.9"/><line x1="124.15" y1="516.0" x2="146.15" y2="516.0" stroke="#151515" stroke-width="1.2"/><line x1="135.15" y1="516.0" x2="135.15" y2="518.0" stroke="#151515" stroke-width="1.0"/><line x1="124.15" y1="553.2" x2="146.15" y2="553.2" stroke="#151515" stroke-width="1.2"/><line x1="135.15" y1="553.2" x2="135.15" y2="554.7" stroke="#151515" stroke-width="1.0"/><line x1="124.15" y1="585.8" x2="146.15" y2="585.8" stroke="#151515" stroke-width="1.2"/><line x1="135.15" y1="585.8" x2="135.15" y2="586.3" stroke="#151515" stroke-width="1.0"/><line x1="124.15" y1="597.8" x2="146.15" y2="597.8" stroke="#151515" stroke-width="1.2"/><line x1="135.15" y1="597.8" x2="135.15" y2="599.3" stroke="#151515" stroke-width="1.0"/><text transform="translate(79.6,618.0) rotate(-45)" font-size="9" font-weight="bold" text-anchor="end" fill="#161616">+/+</text><text transform="translate(137.4,618.0) rotate(-45)" font-size="9" font-weight="bold" text-anchor="end" fill="#161616">-/-</text><text x="103.5" y="637.3" font-size="10" font-weight="bold" font-style="italic" text-anchor="middle" fill="#161616" >Apaf1</text><text x="167.1" y="598.1" font-size="13.5" font-weight="bold" font-style="normal" text-anchor="middle" fill="#161616" >*</text><text x="167.1" y="609.0" font-size="13.5" font-weight="bold" font-style="normal" text-anchor="middle" fill="#161616" >*</text>
<rect x="208.0" y="460.0" width="10.2" height="6.4" fill="#111111"/>
<text x="224.2" y="467.0" font-size="9.2" font-weight="normal" font-style="normal" text-anchor="start" fill="#161616" >lymphoid</text>
<rect x="208.0" y="473.75" width="10.2" height="6.4" fill="url(#chk)"/>
<text x="224.2" y="480.3" font-size="9.2" font-weight="normal" font-style="normal" text-anchor="start" fill="#161616" >erythroid</text>
<rect x="208.0" y="487.5" width="10.2" height="6.4" fill="#2c2f8e"/>
<text x="224.2" y="493.6" font-size="9.2" font-weight="normal" font-style="normal" text-anchor="start" fill="#161616" >late</text>
<rect x="208.0" y="501.25" width="10.2" height="6.4" fill="#52a83c"/>
<text x="224.2" y="506.9" font-size="9.2" font-weight="normal" font-style="normal" text-anchor="start" fill="#161616" >mid</text>
<rect x="208.0" y="515.0" width="10.2" height="6.4" fill="#f1e22a"/>
<text x="224.2" y="520.2" font-size="9.2" font-weight="normal" font-style="normal" text-anchor="start" fill="#161616" >early</text>
<text x="289.0" y="383.8" font-size="10.8" font-weight="bold" font-style="normal" text-anchor="start" fill="#161616">E</text>
<rect x="352.5" y="402.5" width="5.0" height="5.0" fill="#2e3192"/>
<rect x="352.5" y="415.5" width="5.0" height="5.0" fill="#c1121f"/>
<circle cx="435.8" cy="405.1" r="2.7" fill="#2e3192"/>
<circle cx="435.8" cy="419.6" r="2.7" fill="#c1121f"/>
<text x="365.9" y="409.4" font-size="9.9" font-weight="bold" fill="#161616"><tspan font-style="italic">Casp9</tspan></text>
<text x="399.6" y="405.2" font-size="6.8" font-weight="bold" fill="#161616">+/+</text>
<text x="365.9" y="422.6" font-size="9.9" font-weight="bold" fill="#161616"><tspan font-style="italic">Casp9</tspan></text>
<text x="399.6" y="418.4" font-size="6.8" font-weight="bold" fill="#161616">-/-</text>
<text x="446.3" y="409.4" font-size="9.9" font-weight="bold" fill="#161616"><tspan font-style="italic">Apaf1</tspan></text>
<text x="476.8" y="405.2" font-size="6.8" font-weight="bold" fill="#161616">+/+</text>
<text x="446.3" y="422.6" font-size="9.9" font-weight="bold" fill="#161616"><tspan font-style="italic">Apaf1</tspan></text>
<text x="476.8" y="418.4" font-size="6.8" font-weight="bold" fill="#161616">-/-</text>
<line x1="339.3" y1="459.5" x2="339.3" y2="575.4" stroke="#202020" stroke-width="1.3"/>
<line x1="336.5" y1="572.7" x2="339.3" y2="572.7" stroke="#202020" stroke-width="1.2"/>
<text x="335.3" y="575.1" font-size="6.9" font-weight="bold" font-style="normal" text-anchor="end" fill="#161616">0.00</text>
<line x1="336.5" y1="544.5200000000001" x2="339.3" y2="544.5200000000001" stroke="#202020" stroke-width="1.2"/>
<text x="335.3" y="546.9200000000001" font-size="6.9" font-weight="bold" font-style="normal" text-anchor="end" fill="#161616">0.05</text>
<line x1="336.5" y1="516.34" x2="339.3" y2="516.34" stroke="#202020" stroke-width="1.2"/>
<text x="335.3" y="518.74" font-size="6.9" font-weight="bold" font-style="normal" text-anchor="end" fill="#161616">0.10</text>
<line x1="336.5" y1="488.16" x2="339.3" y2="488.16" stroke="#202020" stroke-width="1.2"/>
<text x="335.3" y="490.56" font-size="6.9" font-weight="bold" font-style="normal" text-anchor="end" fill="#161616">0.15</text>
<line x1="336.5" y1="459.98" x2="339.3" y2="459.98" stroke="#202020" stroke-width="1.2"/>
<text x="335.3" y="462.38" font-size="6.9" font-weight="bold" font-style="normal" text-anchor="end" fill="#161616">0.20</text>
<line x1="340.0" y1="572.8" x2="422.0" y2="572.8" stroke="#c4c4c4" stroke-width="1.3"/>
<line x1="432.2" y1="572.8" x2="515.5" y2="572.8" stroke="#c4c4c4" stroke-width="1.3"/>
<line x1="339.5" y1="585.3" x2="421.3" y2="585.3" stroke="#151515" stroke-width="1.3"/>
<line x1="432.2" y1="585.3" x2="515.5" y2="585.3" stroke="#151515" stroke-width="1.3"/>
<text x="383.0" y="594.5" font-size="7.2" font-weight="bold" font-style="normal" text-anchor="middle" fill="#161616">myeloid</text>
<text x="471.6" y="594.5" font-size="7.2" font-weight="bold" font-style="normal" text-anchor="middle" fill="#161616">erythroid</text>
<text transform="translate(303.4,517.5) rotate(-90)" font-size="8" font-weight="bold" text-anchor="middle" fill="#161616">Proportion of</text>
<text transform="translate(311.8,517.0) rotate(-90)" font-size="8" font-weight="bold" text-anchor="middle" fill="#161616">Dysplastic Cells</text>
<polyline points="356.3,465.7 356.3,460.5 378.0,460.5 378.0,465.7" fill="none" stroke="#151515" stroke-width="1.2"/>
<text x="367.45" y="460.6" font-size="13.8" font-weight="bold" font-style="normal" text-anchor="middle" fill="#161616">***</text>
<polyline points="390.8,465.7 390.8,460.5 412.5,460.5 412.5,465.7" fill="none" stroke="#151515" stroke-width="1.2"/>
<text x="401.95" y="460.6" font-size="13.8" font-weight="bold" font-style="normal" text-anchor="middle" fill="#161616">**</text>
<polyline points="442.3,498.0 442.3,492.8 464.3,492.8 464.3,498.0" fill="none" stroke="#151515" stroke-width="1.2"/>
<text x="453.6" y="492.90000000000003" font-size="13.8" font-weight="bold" font-style="normal" text-anchor="middle" fill="#161616">**</text>
<polyline points="478.9,498.0 478.9,492.8 500.8,492.8 500.8,498.0" fill="none" stroke="#151515" stroke-width="1.2"/>
<text x="490.15000000000003" y="492.90000000000003" font-size="13.8" font-weight="bold" font-style="normal" text-anchor="middle" fill="#161616">**</text>
<rect x="352.4" y="563.5" width="4.2" height="4.2" fill="#2e3192"/><rect x="349.4" y="569.9" width="4.2" height="4.2" fill="#2e3192"/><rect x="352.4" y="569.9" width="4.2" height="4.2" fill="#2e3192"/><rect x="355.4" y="569.9" width="4.2" height="4.2" fill="#2e3192"/><rect x="357.9" y="569.9" width="4.2" height="4.2" fill="#2e3192"/><line x1="350.0" y1="570.6" x2="361.0" y2="570.6" stroke="#151515" stroke-width="1.3"/>
<rect x="369.2" y="499.9" width="4.2" height="4.2" fill="#c1121f"/><rect x="372.2" y="498.7" width="4.2" height="4.2" fill="#c1121f"/><rect x="374.9" y="505.9" width="4.2" height="4.2" fill="#c1121f"/><rect x="372.09999999999997" y="539.1999999999999" width="4.2" height="4.2" fill="#c1121f"/><line x1="367.5" y1="513.0" x2="381.2" y2="513.0" stroke="#151515" stroke-width="1.3"/><line x1="374.35" y1="507.0" x2="374.35" y2="513.0" stroke="#c1121f" stroke-width="1.0"/><line x1="371.85" y1="507.0" x2="376.85" y2="507.0" stroke="#c1121f" stroke-width="1.0"/>
<circle cx="390.0" cy="555.0" r="2.25" fill="#2e3192"/><circle cx="396.2" cy="556.8" r="2.25" fill="#2e3192"/><circle cx="390.0" cy="572.3" r="2.25" fill="#2e3192"/><circle cx="393.8" cy="572.3" r="2.25" fill="#2e3192"/><circle cx="396.3" cy="567.5" r="2.25" fill="#2e3192"/><line x1="387.0" y1="566.3" x2="398.8" y2="566.3" stroke="#151515" stroke-width="1.3"/><line x1="392.9" y1="563.0" x2="392.9" y2="566.3" stroke="#2e3192" stroke-width="1.0"/><line x1="390.4" y1="563.0" x2="395.4" y2="563.0" stroke="#2e3192" stroke-width="1.0"/><line x1="392.9" y1="566.3" x2="392.9" y2="569.8" stroke="#2e3192" stroke-width="1.0"/><line x1="390.4" y1="569.8" x2="395.4" y2="569.8" stroke="#2e3192" stroke-width="1.0"/>
<circle cx="411.3" cy="480.5" r="2.25" fill="#c1121f"/><circle cx="411.3" cy="502.0" r="2.25" fill="#c1121f"/><circle cx="411.3" cy="510.8" r="2.25" fill="#c1121f"/><circle cx="408.7" cy="535.8" r="2.25" fill="#c1121f"/><circle cx="414.5" cy="538.3" r="2.25" fill="#c1121f"/><circle cx="411.3" cy="552.5" r="2.25" fill="#c1121f"/><line x1="405.0" y1="520.0" x2="418.8" y2="520.0" stroke="#151515" stroke-width="1.3"/><line x1="411.9" y1="508.3" x2="411.9" y2="520.0" stroke="#c1121f" stroke-width="1.0"/><line x1="409.4" y1="508.3" x2="414.4" y2="508.3" stroke="#c1121f" stroke-width="1.0"/>
<rect x="438.4" y="545.9" width="4.2" height="4.2" fill="#2e3192"/><rect x="444.09999999999997" y="543.6999999999999" width="4.2" height="4.2" fill="#2e3192"/><rect x="441.4" y="549.4" width="4.2" height="4.2" fill="#2e3192"/><rect x="444.09999999999997" y="559.9" width="4.2" height="4.2" fill="#2e3192"/><rect x="438.4" y="565.6" width="4.2" height="4.2" fill="#2e3192"/><line x1="436.9" y1="555.4" x2="450.0" y2="555.4" stroke="#151515" stroke-width="1.3"/><line x1="443.45" y1="550.8" x2="443.45" y2="555.4" stroke="#2e3192" stroke-width="1.0"/><line x1="440.95" y1="550.8" x2="445.95" y2="550.8" stroke="#2e3192" stroke-width="1.0"/>
<rect x="457.09999999999997" y="521.3" width="4.2" height="4.2" fill="#c1121f"/><rect x="463.29999999999995" y="519.4" width="4.2" height="4.2" fill="#c1121f"/><rect x="460.2" y="531.0" width="4.2" height="4.2" fill="#c1121f"/><rect x="460.2" y="538.6999999999999" width="4.2" height="4.2" fill="#c1121f"/><line x1="456.2" y1="529.2" x2="468.5" y2="529.2" stroke="#151515" stroke-width="1.3"/><line x1="462.35" y1="525.4" x2="462.35" y2="529.2" stroke="#c1121f" stroke-width="1.0"/><line x1="459.85" y1="525.4" x2="464.85" y2="525.4" stroke="#c1121f" stroke-width="1.0"/>
<circle cx="481.1" cy="544.9" r="2.25" fill="#2e3192"/><circle cx="483.8" cy="552.0" r="2.25" fill="#2e3192"/><circle cx="478.9" cy="554.6" r="2.25" fill="#2e3192"/><circle cx="478.0" cy="560.5" r="2.25" fill="#2e3192"/><circle cx="483.8" cy="561.5" r="2.25" fill="#2e3192"/><circle cx="481.1" cy="568.9" r="2.25" fill="#2e3192"/><line x1="474.6" y1="556.9" x2="487.7" y2="556.9" stroke="#151515" stroke-width="1.3"/><line x1="481.15" y1="554.0" x2="481.15" y2="556.9" stroke="#2e3192" stroke-width="1.0"/><line x1="478.65" y1="554.0" x2="483.65" y2="554.0" stroke="#2e3192" stroke-width="1.0"/>
<circle cx="500.0" cy="509.5" r="2.25" fill="#c1121f"/><circle cx="500.0" cy="519.7" r="2.25" fill="#c1121f"/><circle cx="497.2" cy="535.1" r="2.25" fill="#c1121f"/><circle cx="503.1" cy="539.7" r="2.25" fill="#c1121f"/><circle cx="503.1" cy="546.2" r="2.25" fill="#c1121f"/><circle cx="497.2" cy="548.9" r="2.25" fill="#c1121f"/><line x1="493.8" y1="532.6" x2="506.2" y2="532.6" stroke="#151515" stroke-width="1.3"/><line x1="500.0" y1="526.2" x2="500.0" y2="532.6" stroke="#c1121f" stroke-width="1.0"/><line x1="497.5" y1="526.2" x2="502.5" y2="526.2" stroke="#c1121f" stroke-width="1.0"/>
</svg>
</body></html>
